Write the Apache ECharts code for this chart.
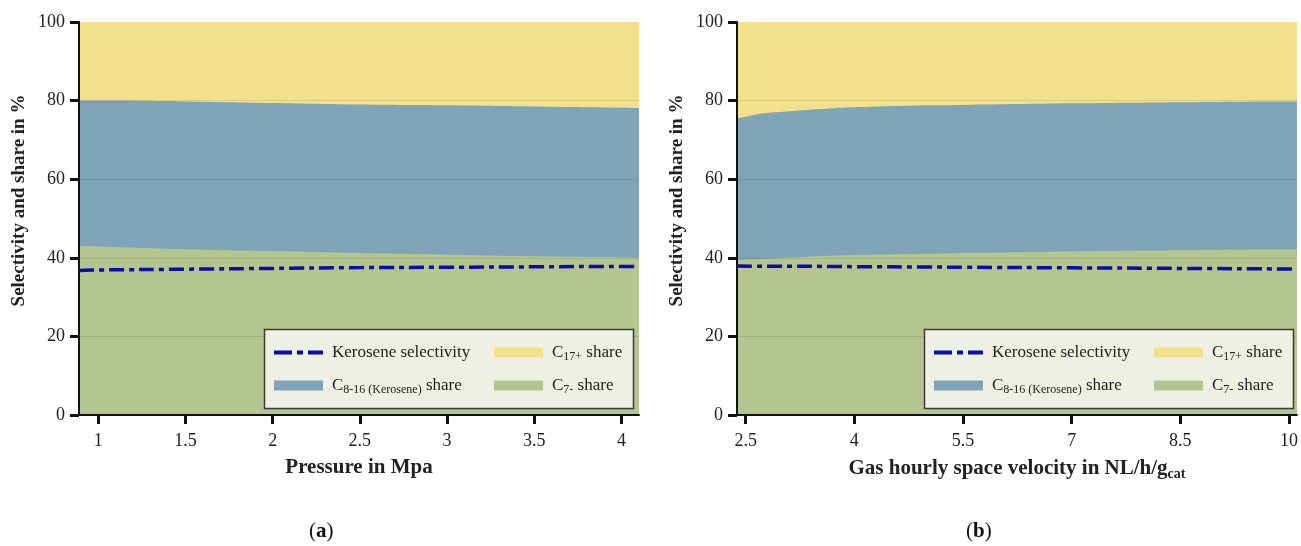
<!DOCTYPE html>
<html><head><meta charset="utf-8">
<script src="https://cdn.jsdelivr.net/npm/echarts@6/dist/echarts.min.js"></script>
<style>html,body{margin:0;padding:0;background:#fff}#c{width:1301px;height:546px}</style>
</head><body><div id="c"></div>
<script>
// ---- Data (a): pressure ----
const pressureX        = [0.89, 1, 1.5, 2, 2.5, 3, 3.5, 4, 4.1];
const pressureC7       = [43.0, 42.9, 42.2, 41.7, 41.2, 40.8, 40.4, 40.1, 40.0];
const pressureC816     = [37.0, 37.1, 37.6, 37.7, 37.8, 38.0, 38.1, 38.1, 38.1];
const pressureC17      = [20.0, 20.0, 20.2, 20.6, 21.0, 21.2, 21.5, 21.8, 21.9];
const pressureKerosene = [36.8, 36.9, 37.1, 37.3, 37.5, 37.6, 37.7, 37.8, 37.8];
const pressureTicks    = [1, 1.5, 2, 2.5, 3, 3.5, 4];

// ---- Data (b): GHSV ----
const ghsvX        = [2.38, 2.73, 2.97, 3.66, 4, 5.04, 5.5, 7, 8.5, 10, 10.11];
const ghsvC7       = [39.5, 39.7, 39.9, 40.5, 40.7, 41.0, 41.2, 41.6, 41.9, 42.1, 42.1];
const ghsvC816     = [35.9, 37.0, 37.2, 37.5, 37.6, 37.8, 37.7, 37.7, 37.7, 37.7, 37.7];
const ghsvC17      = [24.6, 23.3, 22.9, 22.0, 21.7, 21.2, 21.1, 20.7, 20.4, 20.2, 20.2];
const ghsvKerosene = [37.9, 37.85, 37.85, 37.8, 37.75, 37.65, 37.6, 37.45, 37.3, 37.15, 37.1];
const ghsvTicks    = [2.5, 4, 5.5, 7, 8.5, 10];

const yTicksMax = 100, yInterval = 20;

const NAMES = {
  ker: 'Kerosene selectivity',
  c17: 'C17+ share',
  c816: 'C8-16 (Kerosene) share',
  c7: 'C7- share'
};
const COL = { c17: '#F2E08C', c816: '#7FA4B7', c7: '#B4C58F', ker: '#0A0AAE' };
const FONT = 'Liberation Serif';
const TXT = '#222';

// cumulative tops (stack drawn by painter's order: top layer first)
function cumulative(...layers) {
  return layers[0].map((_, i) => layers.reduce((s, l) => s + l[i], 0));
}
const pair = (xs, ys) => xs.map((x, i) => [x, +ys[i].toFixed(3)]);

function areaSeries(name, color, xs, ys, idx) {
  return {
    type: 'line', name, xAxisIndex: idx, yAxisIndex: idx,
    data: pair(xs, ys), smooth: 0.4, symbol: 'none', showSymbol: false,
    lineStyle: { width: 0, color }, itemStyle: { color },
    areaStyle: { color, opacity: 1, origin: 'start' }, z: 2
  };
}
function kerSeries(xs, ys, idx) {
  return {
    type: 'line', name: NAMES.ker, xAxisIndex: idx, yAxisIndex: idx,
    data: pair(xs, ys), smooth: 0.4, symbol: 'none', showSymbol: false,
    lineStyle: { width: 3.5, color: COL.ker, type: [15, 5, 5, 5], cap: 'butt' },
    itemStyle: { color: COL.ker }, z: 5
  };
}

const richBase = {
  f: { fontFamily: FONT, fontSize: 17, color: TXT, lineHeight: 20, padding: [0, 0, 0, 4] },
  n: { fontFamily: FONT, fontSize: 17, color: TXT, lineHeight: 20 },
  s: { fontFamily: FONT, fontSize: 12, color: TXT, lineHeight: 8, verticalAlign: 'bottom' }
};
function legendFormatter(name) {
  if (name === NAMES.ker) return '{f|Kerosene selectivity}';
  if (name === NAMES.c17) return '{f|C}{s|17+}{n| share}';
  if (name === NAMES.c816) return '{f|C}{s|8-16 (Kerosene)}{n| share}';
  if (name === NAMES.c7) return '{f|C}{s|7-}{n| share}';
  return name;
}
const kerIcon = 'path://M0,0h18v4h-18z M23,0h6v4h-6z M34,0h15v4h-15z';

function legendItem(key, left, top) {
  const isKer = key === 'ker';
  return {
    show: true, left, top, orient: 'vertical', padding: 0, itemGap: 0,
    itemWidth: 49, itemHeight: isKer ? 4 : 10, selectedMode: false, z: 60,
    formatter: legendFormatter,
    textStyle: { fontFamily: FONT, fontSize: 17, color: TXT, rich: richBase },
    data: [{ name: NAMES[key], icon: isKer ? kerIcon : 'rect',
             itemStyle: { color: COL[key], borderWidth: 0, opacity: 1 } }]
  };
}

function xAxisCfg(idx, min, max, ticks, name) {
  return {
    type: 'value', gridIndex: idx, min, max, z: 3,
    name, nameLocation: 'middle', nameGap: 42,
    nameTextStyle: {
      fontFamily: FONT, fontSize: 21, fontWeight: 'bold', color: TXT,
      rich: {
        b: { fontFamily: FONT, fontSize: 21, fontWeight: 'bold', color: TXT, lineHeight: 24 },
        s: { fontFamily: FONT, fontSize: 14, fontWeight: 'bold', color: TXT, lineHeight: 10, verticalAlign: 'bottom' }
      }
    },
    axisLine: { show: true, onZero: false, lineStyle: { color: '#111', width: 2 } },
    axisTick: { show: true, length: 9, lineStyle: { color: '#111', width: 3 }, customValues: ticks },
    axisLabel: { show: true, margin: 17, fontFamily: FONT, fontSize: 18, color: TXT, customValues: ticks },
    splitLine: { show: false }
  };
}
function yAxisCfg(idx) {
  return {
    type: 'value', gridIndex: idx, min: 0, max: yTicksMax, interval: yInterval, z: 3,
    name: 'Selectivity and share in %', nameLocation: 'middle', nameGap: 50, nameRotate: 90,
    nameTextStyle: { fontFamily: FONT, fontSize: 19, fontWeight: 'bold', color: TXT, padding: [0, 0, 0, 36] },
    axisLine: { show: true, lineStyle: { color: '#111', width: 2 } },
    axisTick: { show: true, length: 9, lineStyle: { color: '#111', width: 3 } },
    axisLabel: { show: true, margin: 14, fontFamily: FONT, fontSize: 18, color: TXT },
    splitLine: { show: true, showMinLine: false, showMaxLine: false,
                 lineStyle: { color: 'rgba(60,60,40,0.13)', width: 1 } }
  };
}

const pTopC7 = cumulative(pressureC7);
const pTopC816 = cumulative(pressureC7, pressureC816);
const pTopC17 = cumulative(pressureC7, pressureC816, pressureC17);
const gTopC7 = cumulative(ghsvC7);
const gTopC816 = cumulative(ghsvC7, ghsvC816);
const gTopC17 = cumulative(ghsvC7, ghsvC816, ghsvC17);

const option = {
  animation: false,
  backgroundColor: '#fff',
  grid: [
    { left: 79, top: 22, width: 560, height: 393, containLabel: false },
    { left: 737, top: 22, width: 562, height: 393, containLabel: false }
  ],
  xAxis: [
    xAxisCfg(0, 0.89, 4.1, pressureTicks, 'Pressure in Mpa'),
    xAxisCfg(1, 2.38, 10.11, ghsvTicks, '{b|Gas hourly space velocity in NL/h/g}{s|cat}')
  ],
  yAxis: [yAxisCfg(0), yAxisCfg(1)],
  legend: [
    legendItem('ker', 274, 344), legendItem('c816', 274, 377),
    legendItem('c17', 494, 344), legendItem('c7', 494, 377),
    legendItem('ker', 934, 344), legendItem('c816', 934, 377),
    legendItem('c17', 1154, 344), legendItem('c7', 1154, 377)
  ],
  graphic: [
    { type: 'rect', z: 50, shape: { x: 264.5, y: 329.5, width: 369, height: 79 },
      style: { fill: '#EEF0E3', stroke: '#3a3a3a', lineWidth: 1.5 } },
    { type: 'rect', z: 50, shape: { x: 924.5, y: 329.5, width: 369, height: 79 },
      style: { fill: '#EEF0E3', stroke: '#3a3a3a', lineWidth: 1.5 } },
    { type: 'text', z: 50, left: 309, top: 521,
      style: { text: '{n|(}{b|a}{n|)}', rich: {
        n: { fontFamily: FONT, fontSize: 21, fill: '#111' },
        b: { fontFamily: FONT, fontSize: 21, fontWeight: 'bold', fill: '#111' } } } },
    { type: 'text', z: 50, left: 966, top: 521,
      style: { text: '{n|(}{b|b}{n|)}', rich: {
        n: { fontFamily: FONT, fontSize: 21, fill: '#111' },
        b: { fontFamily: FONT, fontSize: 21, fontWeight: 'bold', fill: '#111' } } } }
  ],
  series: [
    areaSeries(NAMES.c17, COL.c17, pressureX, pTopC17, 0),
    areaSeries(NAMES.c816, COL.c816, pressureX, pTopC816, 0),
    areaSeries(NAMES.c7, COL.c7, pressureX, pTopC7, 0),
    kerSeries(pressureX, pressureKerosene, 0),
    areaSeries(NAMES.c17, COL.c17, ghsvX, gTopC17, 1),
    areaSeries(NAMES.c816, COL.c816, ghsvX, gTopC816, 1),
    areaSeries(NAMES.c7, COL.c7, ghsvX, gTopC7, 1),
    kerSeries(ghsvX, ghsvKerosene, 1)
  ]
};
const chart = echarts.init(document.getElementById('c'), null, { renderer: 'canvas' });
chart.setOption(option);
</script>
</body></html>
